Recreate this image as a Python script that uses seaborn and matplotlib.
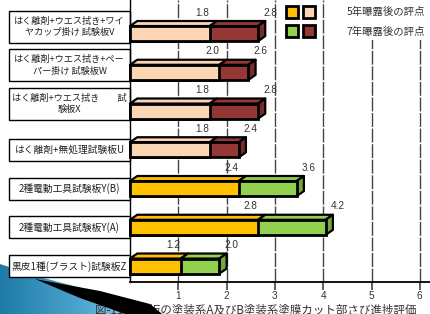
import numpy as np
import pandas as pd
import matplotlib
matplotlib.use("Agg")
import matplotlib.pyplot as plt
import seaborn as sns
from matplotlib.patches import Rectangle, Polygon
from matplotlib.legend_handler import HandlerTuple
from matplotlib.transforms import ScaledTranslation, blended_transform_factory
from matplotlib.colors import to_rgb, LinearSegmentedColormap

# data
panels = [
    "はく離剤+ウエス拭き+ワイ\nヤカップ掛け 試験板V",
    "はく離剤+ウエス拭き+ペー\nパー掛け 試験板W",
    "はく離剤+ウエス拭き　　試\n験板X",
    "はく離剤+無処理試験板U",
    "2種電動工具試験板Y(B)",
    "2種電動工具試験板Y(A)",
    "黒皮1種(ブラスト)試験板Z",
]
score_5yr = [1.8, 2.0, 1.8, 1.8, 2.4, 2.8, 1.2]
score_7yr = [2.8, 2.6, 2.8, 2.4, 3.6, 4.2, 2.0]
legend_labels = ["5年曝露後の評点", "7年曝露後の評点"]
x_ticks = [1, 2, 3, 4, 5, 6]
caption = "図-11 試験板の塗装系A及びB塗装系塗膜カット部さび進捗評価"

col_5yr = ["#FCD5B4"] * 4 + ["#FFC000"] * 3
col_7yr = ["#953735"] * 4 + ["#92D050"] * 3

DX, DY = 0.15, 0.13   # fake 3D depth (data units)
BAR_H = 0.39

sns.set_theme(style="white")
plt.rcParams["font.family"] = ["Noto Sans CJK JP", "DejaVu Sans"]

df = pd.DataFrame({"panel": panels, "y5": score_5yr, "y7": score_7yr})

fig = plt.figure(figsize=(4.3, 3.14), dpi=100)

# slide decoration (blue swoosh) sits under everything
sax = fig.add_axes([0, 0, 1, 1], zorder=-1)
sax.set_axis_off()
sax.set_xlim(0, 430)
sax.set_ylim(314, 0)
swoosh = Polygon([(0, 264), (40, 277), (100, 293), (150, 307), (165, 314), (0, 314)],
                 closed=True, facecolor="none", edgecolor="none")
sax.add_patch(swoosh)
blues = LinearSegmentedColormap.from_list("sw", ["#1F7AA8", "#4FA8D0", "#BFE1EF"])
im = sax.imshow(np.linspace(0, 1, 256)[None, :], extent=(0, 170, 314, 260), cmap=blues,
                aspect="auto")
im.set_clip_path(swoosh)

ax = fig.add_axes([130 / 430, 1 - 282 / 314, 300 / 430, 282 / 314], zorder=0)

sns.barplot(data=df, x="y7", y="panel", hue="panel", palette=col_7yr, legend=False,
            errorbar=None, width=BAR_H, saturation=1, edgecolor="black", linewidth=2.0, ax=ax)
bars7 = list(ax.patches)
sns.barplot(data=df, x="y5", y="panel", hue="panel", palette=col_5yr, legend=False,
            errorbar=None, width=BAR_H, saturation=1, edgecolor="black", linewidth=2.0, ax=ax)
bars5 = [p for p in ax.patches if p not in bars7]


def shade(c, f):
    return tuple(v * f for v in to_rgb(c))


# 3D look: front face ends one depth short, top + side faces drawn behind
for b7, b5, c5, c7 in zip(bars7, bars5, col_5yr, col_7yr):
    for b in (b7, b5):
        b.set_width(b.get_width() - DX)
        b.set_clip_on(False)
        b.set_zorder(3)
    yt = b7.get_y()
    yb = yt + b7.get_height()
    x5 = b5.get_width()
    x7 = b7.get_width()
    faces = [
        ([(0, yt), (DX, yt - DY), (x5 + DX, yt - DY), (x5, yt)], c5),
        ([(x5, yt), (x5 + DX, yt - DY), (x7 + DX, yt - DY), (x7, yt)], c7),
        ([(x7, yt), (x7 + DX, yt - DY), (x7 + DX, yb - DY), (x7, yb)], shade(c7, 0.8)),
    ]
    for pts, c in faces:
        ax.add_patch(Polygon(pts, closed=True, facecolor=c, edgecolor="black",
                             linewidth=1.6, joinstyle="round", clip_on=False, zorder=2.5))

# value labels
for i, (v5, v7) in enumerate(zip(score_5yr, score_7yr)):
    ax.text(v5 - 0.3, i - 0.54, f"{v5:.1f}", ha="center", va="center", fontsize=7.2,
            family="Liberation Sans", color="#333333", zorder=4)
    ax.text(v7 + 0.1, i - 0.54, f"{v7:.1f}", ha="center", va="center", fontsize=7.2,
            family="Liberation Sans", color="#333333", zorder=4)

# category boxes on the left
blend = blended_transform_factory(ax.transAxes, ax.transData)
box_x0, box_x1 = (9 - 130) / 300, 0.0
for i, name in enumerate(panels):
    two = "\n" in name
    h = 0.83 if two else 0.57
    yc = i - 0.18 if two else i
    ax.add_patch(Rectangle((box_x0, yc - h / 2), box_x1 - box_x0, h, transform=blend,
                           facecolor="white", edgecolor="black", linewidth=1.0,
                           clip_on=False, zorder=2))
    ax.text((box_x0 + box_x1) / 2, yc, name, transform=blend, ha="center", va="center",
            fontsize=6.6 if two else 7.0, color="#222222", linespacing=1.35, zorder=3)

ax.set_xlim(0, 300 / 48.3)
ax.set_ylim(6.41, -0.867)
ax.set_yticks([])
ax.set_xlabel("")
ax.set_ylabel("")
ax.set_xticks(x_ticks)
ax.set_xticklabels([str(t) for t in x_ticks], family="Liberation Sans", fontsize=7.2,
                   color="#333333")
off = ScaledTranslation(-0.11, 0, fig.dpi_scale_trans)
for lab in ax.get_xticklabels():
    lab.set_transform(lab.get_transform() + off)
ax.tick_params(axis="x", direction="out", length=6, width=1.2, color="#444444", pad=0.5,
               bottom=True)
ax.set_axisbelow(True)
ax.grid(axis="x", color="#444444", linestyle=(0, (10, 1.2)), linewidth=1.0)
ax.grid(axis="y", visible=False)
for s in ("top", "right"):
    ax.spines[s].set_visible(False)
ax.spines["left"].set_color("black")
ax.spines["left"].set_linewidth(1.0)
ax.spines["bottom"].set_color("black")
ax.spines["bottom"].set_linewidth(1.3)

# white panel behind legend text hides the upper grid lines
ax.add_patch(Rectangle((0.683, 0.858), 0.317, 0.142, transform=ax.transAxes,
                       facecolor="white", edgecolor="none", zorder=1))

sw = dict(edgecolor="black", linewidth=2.0)
handles = [
    (Rectangle((0, 0), 1, 1, facecolor=col_5yr[-1], **sw),
     Rectangle((0, 0), 1, 1, facecolor=col_5yr[0], **sw)),
    (Rectangle((0, 0), 1, 1, facecolor=col_7yr[-1], **sw),
     Rectangle((0, 0), 1, 1, facecolor=col_7yr[0], **sw)),
]
fig.legend(handles, legend_labels, handler_map={tuple: HandlerTuple(ndivide=None, pad=0.5)},
           loc="upper left", bbox_to_anchor=(281 / 430, 1 - 1 / 314), frameon=False,
           fontsize=7.5, handlelength=2.8, handleheight=1.3, handletextpad=3.0,
           labelspacing=0.75, borderpad=0, labelcolor="#333333")


def fig_pts(pts):
    return [(x / 430, 1 - y / 314) for x, y in pts]


fig.text(95 / 430, 1 - 304 / 314, caption, ha="left", va="top", fontsize=8.3,
         color="#333333", zorder=6)
fig.patches.append(Polygon(fig_pts([(35, 279), (100, 291), (150, 304), (162, 314),
                                    (125, 314), (80, 298)]), closed=True,
                           transform=fig.transFigure, facecolor="black", edgecolor="none",
                           zorder=7))

fig.savefig("out.png", dpi=100)
